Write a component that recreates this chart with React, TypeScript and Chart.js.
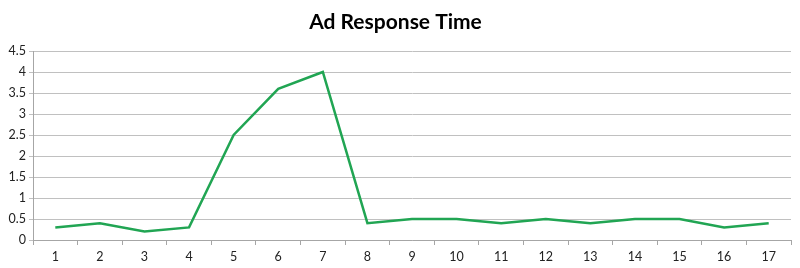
import React, { useEffect, useRef } from "react";
import { Chart, registerables } from "chart.js";

Chart.register(...registerables);

const categories = ["1","2","3","4","5","6","7","8","9","10","11","12","13","14","15","16","17"];
const responseTimes = [0.3, 0.4, 0.2, 0.3, 2.5, 3.6, 4.0, 0.4, 0.5, 0.5, 0.4, 0.5, 0.4, 0.5, 0.5, 0.3, 0.4];
const chartTitle = "Ad Response Time";

export default function App() {
  const ref = useRef<HTMLCanvasElement | null>(null);
  useEffect(() => {
    document.body.style.margin = "0";
    const canvas = ref.current!;
    const chart = new Chart(canvas, {
      type: "line",
      data: {
        labels: categories,
        datasets: [
          {
            data: responseTimes,
            borderColor: "#21A553",
            borderWidth: 2.5,
            pointRadius: 0,
            tension: 0,
            fill: false,
          },
        ],
      },
      options: {
        responsive: false,
        animation: false,
        devicePixelRatio: 1,
        layout: { padding: { left: 0, right: 9, top: 0, bottom: 0 } },
        plugins: {
          legend: { display: false },
          tooltip: { enabled: false },
          title: {
            display: true,
            text: chartTitle,
            color: "#000000",
            font: { family: "Lato", size: 21, weight: "bold" },
            padding: { top: 10, bottom: 15.8 },
          },
        },
        scales: {
          x: {
            offset: true,
            grid: {
              offset: true,
              drawOnChartArea: false,
              drawTicks: true,
              tickLength: 5,
              color: "#a6a6a6",
            },
            border: { color: "#a6a6a6" },
            ticks: {
              color: "#222222",
              font: { family: "Lato", size: 12.5 },
              padding: 4,
              maxRotation: 0,
            },
            afterFit: (s: any) => {
              s.height = 28;
            },
          },
          y: {
            min: 0,
            max: 4.5,
            grid: { color: "#c0c0c0", tickLength: 4, lineWidth: 1 },
            border: { color: "#a6a6a6" },
            ticks: {
              stepSize: 0.5,
              color: "#222222",
              font: { family: "Lato", size: 12.5 },
              padding: 3,
              callback: (v: any) => String(Number(v)),
            },
            afterFit: (s: any) => {
              s.width = 33;
            },
          },
        },
      },
    });
    return () => chart.destroy();
  }, []);
  return <canvas ref={ref} width={800} height={268} style={{ display: "block" }} />;
}
